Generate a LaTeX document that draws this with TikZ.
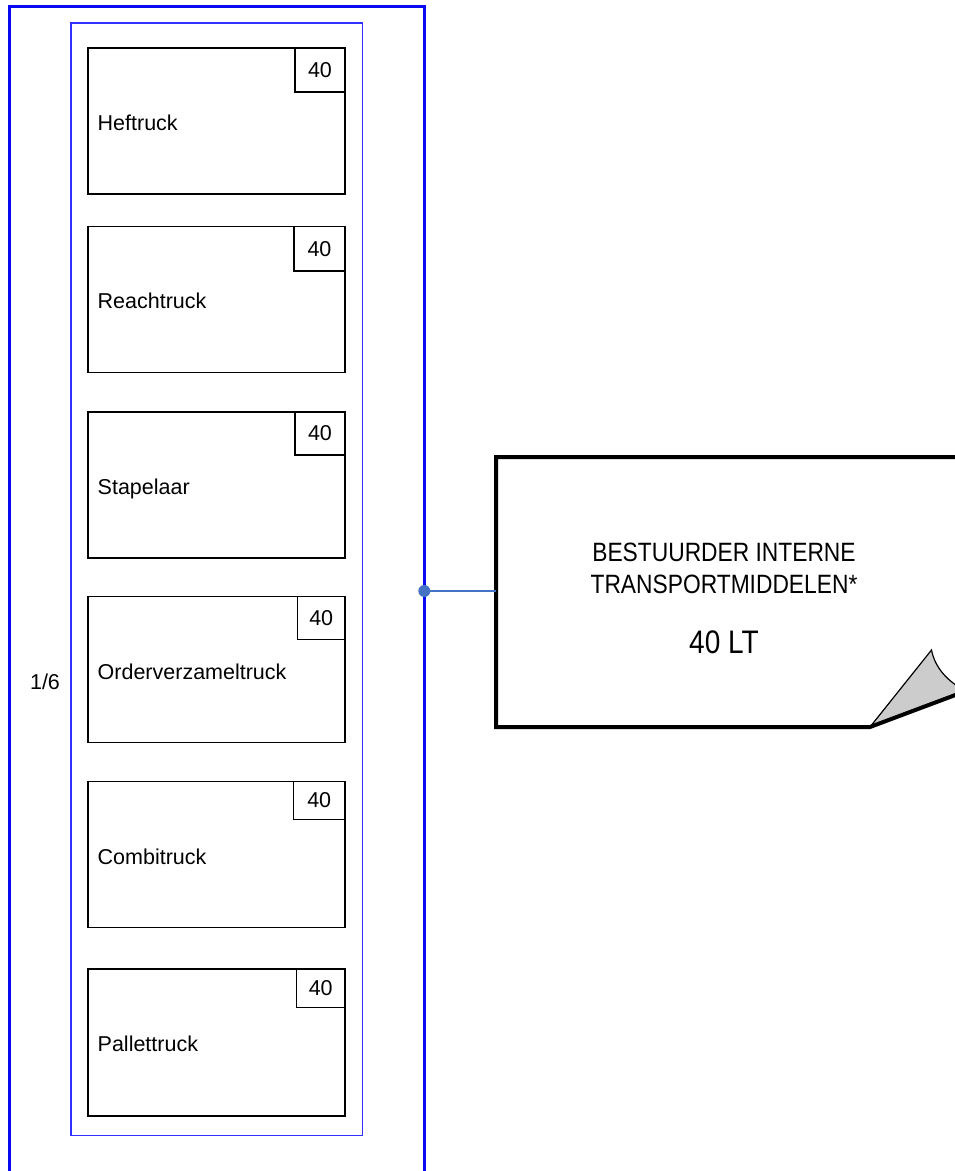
\documentclass[tikz,border=0pt]{standalone}
\usepackage{fontspec}
\setmainfont{Liberation Sans}
\newfontfamily\notefont{Liberation Sans}[FakeStretch=0.86]
\definecolor{outerblue}{HTML}{0A0AF0}
\definecolor{innerblue}{HTML}{3030FF}
\definecolor{linkblue}{HTML}{4472C4}
\definecolor{flapgray}{HTML}{CCCCCC}
\tikzset{
  truckbox/.style={draw=black, line width=1.3pt, minimum width=257pt, minimum height=146pt, inner sep=0pt, outer sep=0pt, anchor=north west},
  numbox/.style={draw=black, line width=1.3pt, minimum height=44pt, inner sep=0pt, outer sep=0pt, anchor=north east, font=\fontsize{21.5}{24}\selectfont},
  trucklabel/.style={anchor=base west, inner sep=0pt, font=\fontsize{21.5}{24}\selectfont},
  notetxt/.style={anchor=base, inner sep=0pt, font=\notefont\fontsize{26.5}{30}\selectfont},
}
\begin{document}
\begin{tikzpicture}[x=1pt,y=-1pt]
\useasboundingbox (0,0) rectangle (955,1171);
\clip (0,0) rectangle (955,1171);
% outer frame (open at bottom)
\draw[outerblue, line width=3pt] (9.3,1185) -- (9.3,6) -- (424.3,6) -- (424.3,1185);
% inner frame
\draw[innerblue, line width=1.5pt] (71,23) rectangle (362.7,1135.7);
% truck boxes
\node[truckbox] (b1) at (88,48) {};
\node[truckbox] (b2) at (88,226.5) {};
\node[truckbox] (b3) at (88,412) {};
\node[truckbox] (b4) at (88,596.7) {};
\node[truckbox] (b5) at (88,781.7) {};
\node[truckbox, minimum height=147pt] (b6) at (88,969) {};
% number boxes
\node[numbox, minimum width=50pt] (n1) at (b1.north east) {40};
\node[numbox, minimum width=51pt, minimum height=44.5pt] (n2) at (b2.north east) {40};
\node[numbox, minimum width=50pt, minimum height=43pt] (n3) at (b3.north east) {40};
\node[numbox, minimum width=47.5pt, minimum height=42.5pt] (n4) at (b4.north east) {40};
\node[numbox, minimum width=51.5pt, minimum height=37.5pt] (n5) at (b5.north east) {40};
\node[numbox, minimum width=48.5pt, minimum height=38.5pt] (n6) at (b6.north east) {40};
% labels
\node[trucklabel] (l1) at (97.5,130.3) {Heftruck};
\node[trucklabel] (l2) at (97.5,308.8) {Reachtruck};
\node[trucklabel] (l3) at (97.5,494.3) {Stapelaar};
\node[trucklabel] (l4) at (97.5,679) {Orderverzameltruck};
\node[trucklabel] (l5) at (97.5,864) {Combitruck};
\node[trucklabel] (l6) at (97.5,1051) {Pallettruck};
\node[anchor=base, inner sep=0pt, font=\fontsize{21.5}{24}\selectfont] (frac) at (45,689.5) {1/6};
% note shape
\fill[white] (496,457) -- (990,457) -- (990,684) -- (870,727) -- (496,727) -- cycle;
\fill[flapgray] (870,727) -- (931.5,650) .. controls (935,668) and (948,682) .. (966,691) -- cycle;
\draw[black, line width=1.2pt] (870,727) -- (931.5,650) .. controls (935,668) and (948,682) .. (966,691);
\draw[black, line width=4pt, line join=miter] (990,457) -- (496,457) -- (496,727) -- (870,727) -- (990,682);
\coordinate (notew) at (496,591);
% note text
\node[notetxt] (nt1) at (724,561) {BESTUURDER INTERNE};
\node[notetxt] (nt2) at (724,593.5) {TRANSPORTMIDDELEN*};
\node[notetxt, font=\notefont\fontsize{32.6}{36}\selectfont] (nt3) at (724,653.4) {40 LT};
% connector
\coordinate (dotc) at (424.3,591);
\draw[linkblue, line width=2.5pt] (dotc) -- (notew);
\node[circle, fill=linkblue, minimum size=12pt, inner sep=0pt] (dot) at (dotc) {};
\end{tikzpicture}
\end{document}
